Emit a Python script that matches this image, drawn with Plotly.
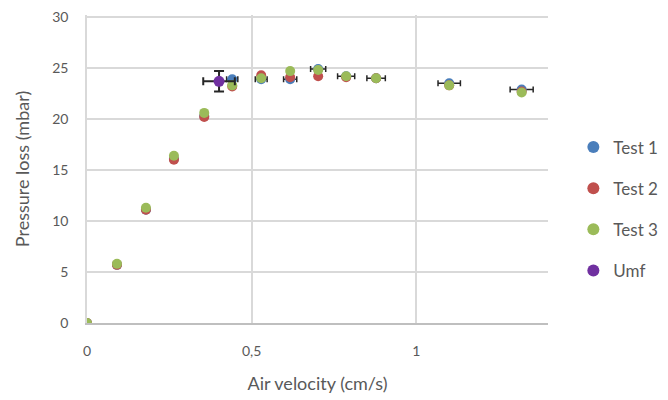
import plotly.graph_objects as go

velocity = [0, 0.091, 0.179, 0.264, 0.356, 0.441, 0.529, 0.617, 0.702, 0.787, 0.878, 1.100, 1.320]
velocity_err = [0, 0, 0, 0, 0, 0.017, 0.018, 0.020, 0.023, 0.026, 0.028, 0.034, 0.035]
test1 = [0, 5.7, 11.1, 16.1, 20.3, 23.9, 23.9, 23.9, 24.9, 24.2, 24.0, 23.5, 22.9]
test2 = [0, 5.7, 11.1, 16.0, 20.2, 23.2, 24.3, 24.1, 24.2, 24.1, 24.0, 23.3, 22.7]
test3 = [0, 5.8, 11.3, 16.4, 20.6, 23.3, 24.0, 24.7, 24.8, 24.2, 24.0, 23.3, 22.6]
umf_x = [0.401]
umf_y = [23.7]
umf_xerr = [0.048]
umf_yerr = [1.0]

x_ticks = [0, 0.5, 1]
x_tick_labels = ["0", "0,5", "1"]
y_ticks = [0, 5, 10, 15, 20, 25, 30]

font = "Lato, 'Open Sans', sans-serif"
grey = "#595959"

fig = go.Figure()
fig.add_trace(go.Scatter(
    x=velocity, y=test1, mode="markers", name="Test 1", legendgroup="a",
    marker=dict(color="#4a7ebb", size=10),
    error_x=dict(type="data", array=velocity_err, color="#262626", thickness=1.5, width=3),
))
fig.add_trace(go.Scatter(
    x=velocity, y=test2, mode="markers", name="Test 2", legendgroup="b",
    marker=dict(color="#c0504d", size=10),
))
fig.add_trace(go.Scatter(
    x=velocity, y=test3, mode="markers", name="Test 3", legendgroup="c",
    marker=dict(color="#9bbb59", size=10),
))
fig.add_trace(go.Scatter(
    x=umf_x, y=umf_y, mode="markers", name="Umf", legendgroup="d",
    marker=dict(color="#7030a0", size=11),
    error_x=dict(type="data", array=umf_xerr, color="#262626", thickness=2, width=4),
    error_y=dict(type="data", array=umf_yerr, color="#262626", thickness=2, width=5),
))

fig.update_layout(
    width=668, height=400,
    margin=dict(l=79, r=128, t=7, b=85),
    paper_bgcolor="white", plot_bgcolor="white",
    font=dict(family=font, color=grey, size=14),
    legend=dict(x=1.055, y=0.37, xanchor="left", yanchor="middle",
                font=dict(size=17, color=grey), tracegroupgap=16,
                itemsizing="constant"),
    xaxis=dict(range=[0, 1.4], tickvals=x_ticks, ticktext=x_tick_labels,
               showgrid=True, gridcolor="#d9d9d9", gridwidth=1.5,
               zeroline=False, showline=True, linecolor="#bfbfbf", linewidth=1.5,
               ticks="", automargin=False, ticklabelstandoff=14,
               ticklabeloverflow="allow",
               tickfont=dict(size=14, color=grey),
               title=dict(text="Air velocity (cm/s)", font=dict(size=18, color=grey), standoff=20)),
    yaxis=dict(range=[0, 30.2], tickvals=y_ticks,
               showgrid=True, gridcolor="#d9d9d9", gridwidth=1.5,
               zeroline=False, showline=True, linecolor="#d9d9d9", linewidth=1.5,
               ticks="", automargin=False, ticklabelstandoff=14,
               ticklabeloverflow="allow",
               tickfont=dict(size=14, color=grey),
               title=dict(text="Pressure loss (mbar)", font=dict(size=18, color=grey), standoff=18)),
)

fig.write_html("out.html")
